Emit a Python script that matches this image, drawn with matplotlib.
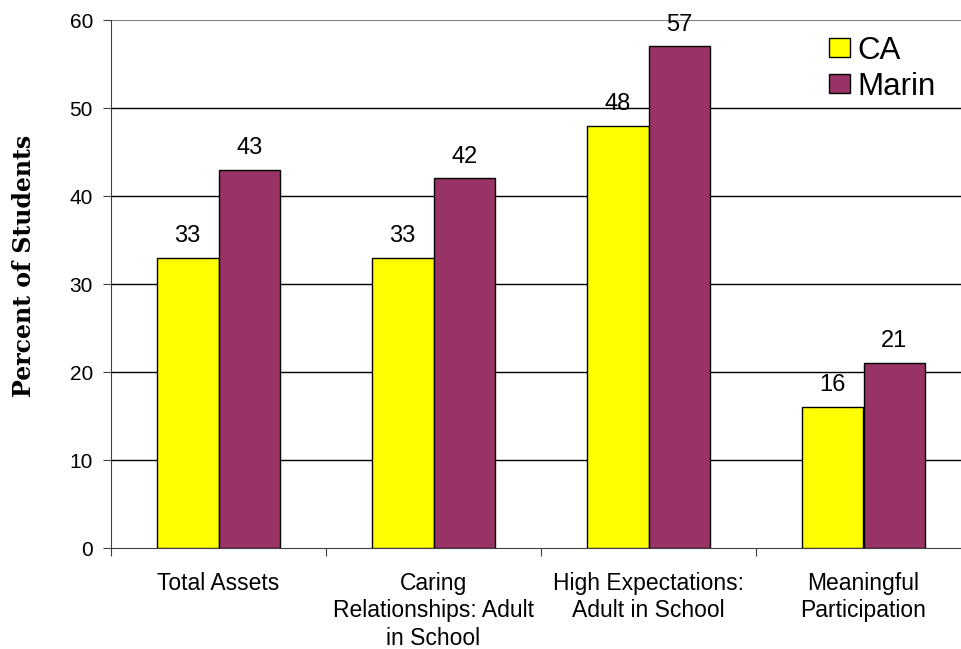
import numpy as np
import matplotlib.pyplot as plt

categories = ["Total Assets", "Caring\nRelationships: Adult\nin School",
              "High Expectations:\nAdult in School", "Meaningful\nParticipation"]
ca_values = [33, 33, 48, 16]
marin_values = [43, 42, 57, 21]
yticks = [0, 10, 20, 30, 40, 50, 60]

plt.rcParams['font.family'] = ['Liberation Sans', 'DejaVu Sans']

fig = plt.figure(figsize=(9.61, 6.49), dpi=100)
ax = fig.add_axes([111 / 961, 1 - 548 / 649, 860 / 961, 528 / 649])

x = np.arange(len(categories))
w = 0.288
bars_ca = ax.bar(x - w / 2, ca_values, w, color='#FFFF00', edgecolor='black', linewidth=1, label='CA', zorder=3)
bars_marin = ax.bar(x + w / 2, marin_values, w, color='#993366', edgecolor='black', linewidth=1, label='Marin', zorder=3)

for bars in (bars_ca, bars_marin):
    for b in bars:
        ax.text(b.get_x() + b.get_width() / 2, b.get_height() + 1.8, str(int(b.get_height())),
                ha='center', va='baseline', fontsize=17, zorder=4)

ax.set_xlim(-0.5, len(categories) - 0.5)
ax.set_ylim(0, 60)
ax.set_yticks(yticks)
for y in yticks[1:-1]:
    ax.axhline(y, color='black', linewidth=1, zorder=1)
ax.axhline(60, color='#808080', linewidth=1.5, zorder=1)

ax.set_xticks(np.arange(len(categories) + 1) - 0.5)
ax.set_xticklabels([])
ax.set_xticks(x, minor=True)
ax.set_xticklabels(categories, minor=True, fontsize=16.5, linespacing=1.25)
ax.tick_params(axis='x', which='minor', length=0, pad=17)
ax.tick_params(axis='x', which='major', length=6, color='#404040', direction='out')
ax.tick_params(axis='y', labelsize=15, length=6, color='#404040', pad=7)

for s in ['top', 'right']:
    ax.spines[s].set_visible(False)
ax.spines['left'].set_color('#404040')
ax.spines['bottom'].set_color('#404040')

ax.set_ylabel('Percent of Students', family=['DejaVu Serif'], fontweight='bold', fontsize=17)
ax.yaxis.set_label_coords(-0.087, 0.534)

ax.legend(loc='upper left', bbox_to_anchor=(0.81, 1.012), frameon=False, fontsize=22.5,
          handlelength=0.67, handleheight=0.58, handletextpad=0.22, labelspacing=0.2, borderpad=0.2)

fig.savefig('out.png', dpi=100)
